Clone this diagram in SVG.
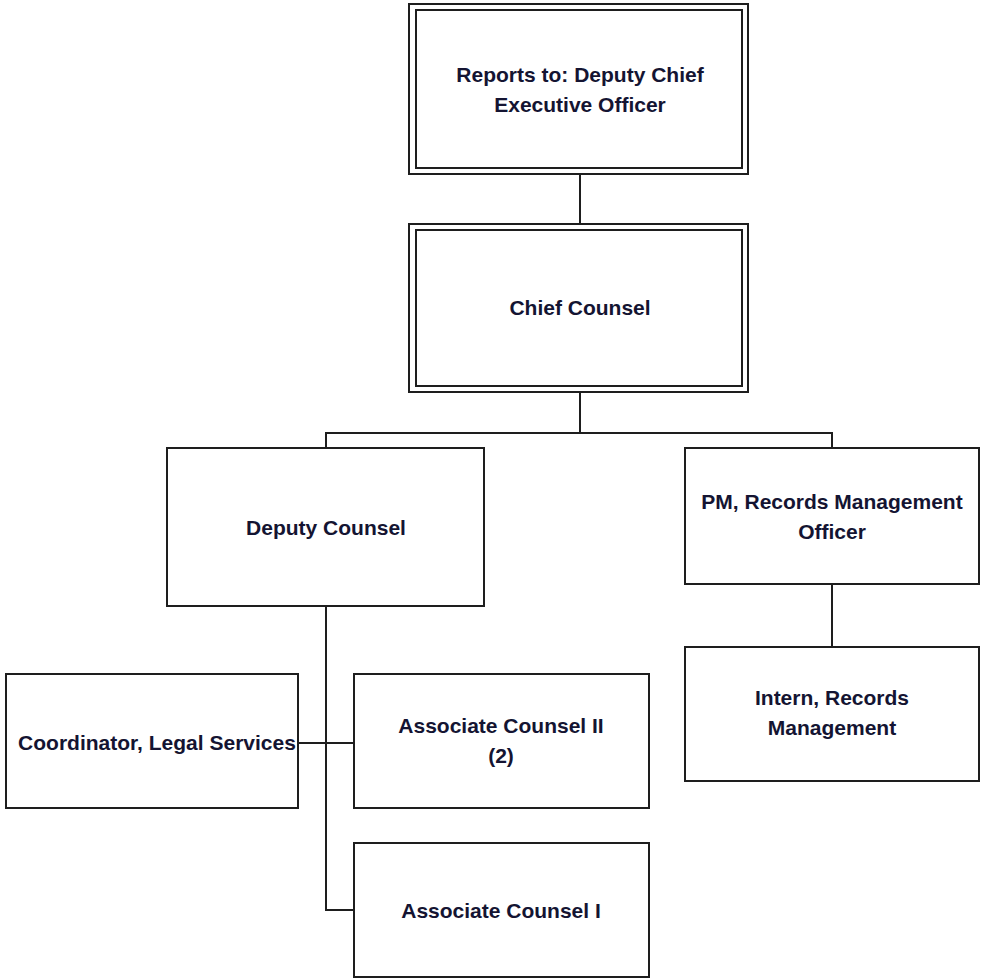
<svg xmlns="http://www.w3.org/2000/svg" width="981" height="980" viewBox="0 0 981 980">
<style>
.box{fill:#fff;stroke:#1e1e1e;stroke-width:2}
.inner{fill:none;stroke:#1e1e1e;stroke-width:2}
.conn{fill:none;stroke:#1e1e1e;stroke-width:2}
.t{font-family:"Liberation Sans",Arial,sans-serif;font-weight:bold;font-size:21px;fill:#141432;text-anchor:middle}
</style>
<rect width="981" height="980" fill="#fff"/>
<g id="connectors">
<line class="conn" x1="580" y1="174" x2="580" y2="224"/>
<line class="conn" x1="580" y1="392" x2="580" y2="433"/>
<polyline class="conn" points="326,448 326,433 832,433 832,448"/>
<line class="conn" x1="832" y1="584" x2="832" y2="647"/>
<polyline class="conn" points="326,606 326,910 354,910"/>
<line class="conn" x1="298" y1="743" x2="354" y2="743"/>
</g>
<g id="node-reports-to">
<rect class="box" x="409" y="4" width="339" height="170"/>
<rect class="inner" x="416" y="10" width="326" height="158"/>
<text class="t" x="580" y="82">Reports to: Deputy Chief</text>
<text class="t" x="580" y="112">Executive Officer</text>
</g>
<g id="node-chief-counsel">
<rect class="box" x="409" y="224" width="339" height="168"/>
<rect class="inner" x="416" y="230" width="326" height="156"/>
<text class="t" x="580" y="315">Chief Counsel</text>
</g>
<g id="node-deputy-counsel">
<rect class="box" x="167" y="448" width="317" height="158"/>
<text class="t" x="326" y="535">Deputy Counsel</text>
</g>
<g id="node-pm-records">
<rect class="box" x="685" y="448" width="294" height="136"/>
<text class="t" x="832" y="509">PM, Records Management</text>
<text class="t" x="832" y="539">Officer</text>
</g>
<g id="node-intern-records">
<rect class="box" x="685" y="647" width="294" height="134"/>
<text class="t" x="832" y="705">Intern, Records</text>
<text class="t" x="832" y="735">Management</text>
</g>
<g id="node-coordinator">
<rect class="box" x="6" y="674" width="292" height="134"/>
<text class="t" x="157" y="750">Coordinator, Legal Services</text>
</g>
<g id="node-associate-ii">
<rect class="box" x="354" y="674" width="295" height="134"/>
<text class="t" x="501" y="733">Associate Counsel II</text>
<text class="t" x="501" y="763">(2)</text>
</g>
<g id="node-associate-i">
<rect class="box" x="354" y="843" width="295" height="134"/>
<text class="t" x="501" y="918">Associate Counsel I</text>
</g>
</svg>
